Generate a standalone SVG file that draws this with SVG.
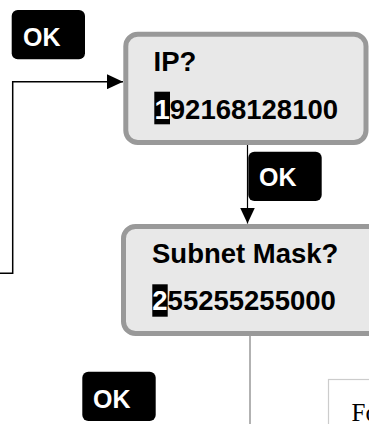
<svg xmlns="http://www.w3.org/2000/svg" width="369" height="424" viewBox="0 0 369 424">
<defs>
<style>
.box{fill:#e8e8e8;stroke:#999;stroke-width:5}
.t{font-family:"Liberation Sans",Arial,sans-serif;font-weight:bold;font-size:27.5px;fill:#000}
.ok{fill:#000}
.okt{font-family:"Liberation Sans",Arial,sans-serif;font-weight:bold;font-size:25px;fill:#fff}
.cur{fill:#000}
.w{fill:#fff}
.con{fill:none;stroke:#000}
</style>
<marker id="ah" markerWidth="16" markerHeight="15" refX="16" refY="7.5" orient="auto" markerUnits="userSpaceOnUse">
<path d="M0,0 L16,7.5 L0,15 Z" fill="#000"/>
</marker>
</defs>
<rect width="369" height="424" fill="#fff"/>
<g id="connectors">
<polyline class="con" stroke-width="1.5" points="0,273.3 12.7,273.3 12.7,81.7 123,81.7" marker-end="url(#ah)"/>
<line class="con" stroke-width="1.2" x1="247.5" y1="137" x2="247.5" y2="223.5" marker-end="url(#ah)"/>
<line x1="250" y1="336" x2="250" y2="424" stroke="#999" stroke-width="1.5"/>
</g>
<g id="ip">
<rect class="box" x="125.8" y="34.2" width="240.2" height="108.3" rx="12"/>
<text class="t" x="153.5" y="71">IP?</text>
<rect class="cur" x="154.3" y="91.7" width="15.7" height="32.6"/>
<text class="t" x="154.5" y="119.3"><tspan class="w">1</tspan>92168128100</text>
</g>
<g id="subnet">
<rect class="box" x="123.5" y="226.5" width="260" height="107" rx="12"/>
<text class="t" x="152" y="262.7">Subnet Mask?</text>
<rect class="cur" x="152.3" y="284.3" width="15.4" height="32.4"/>
<text class="t" x="152.3" y="310"><tspan class="w">2</tspan>55255255000</text>
</g>
<g id="ok1">
<rect class="ok" x="11.7" y="10" width="73.3" height="49.3" rx="6"/>
<text class="okt" x="23" y="45.7">OK</text>
</g>
<g id="ok2">
<rect class="ok" x="248.3" y="151.7" width="73.4" height="49.3" rx="6"/>
<text class="okt" x="259" y="186">OK</text>
</g>
<g id="ok3">
<rect class="ok" x="82.3" y="371.7" width="73.4" height="49.3" rx="6"/>
<text class="okt" x="93" y="407.7">OK</text>
</g>
<g id="note">
<rect x="328.5" y="379.5" width="60" height="60" fill="#fff" stroke="#ccc" stroke-width="1.2"/>
<text x="351.5" y="420.7" font-family="'Liberation Serif','Times New Roman',serif" font-size="25" fill="#000">Fo</text>
</g>
</svg>
